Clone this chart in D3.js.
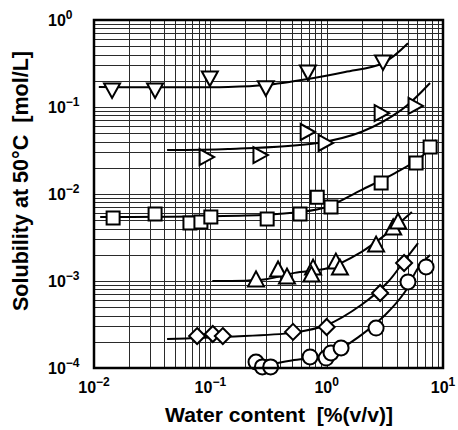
<!DOCTYPE html>
<html>
<head>
<meta charset="utf-8">
<script src="https://cdn.jsdelivr.net/npm/d3@7"></script>
<style>
  body { margin: 0; background: #fff; }
  text { font-family: "Liberation Sans", Arial, sans-serif; font-weight: bold; fill: #000; white-space: pre; }
</style>
</head>
<body>
<div id="container"></div>
<script>
var w = 458;
var h = 430;

// data: [water content %, solubility mol/L]
var downTri = [[0.0143, 0.157], [0.0335, 0.157], [0.099, 0.215], [0.30, 0.166], [0.69, 0.252], [3.05, 0.33]];
var downTriCurve = [[0.011, 0.17], [0.142, 0.17], [0.30, 0.179], [0.69, 0.21], [1.44, 0.252], [3.05, 0.32], [5.0, 0.54]];

var rightTri = [[0.092, 0.0266], [0.267, 0.028], [0.68, 0.0516], [0.97, 0.0386], [2.94, 0.085], [5.75, 0.103]];
var rightTriCurve = [[0.0425, 0.032], [0.142, 0.0329], [0.84, 0.0386], [1.98, 0.0516], [4.36, 0.092], [7.74, 0.189]];

var squares = [[0.0146, 0.0053], [0.0335, 0.00589], [0.0668, 0.00464], [0.083, 0.00477], [0.101, 0.00544],
  [0.308, 0.00516], [0.59, 0.00589], [0.83, 0.0092], [1.09, 0.0071], [2.94, 0.0134], [5.87, 0.0227], [7.75, 0.0347]];
var squareCurve = [[0.0113, 0.00544], [0.28, 0.00575], [0.59, 0.0062], [1.0, 0.0071], [1.98, 0.0111], [3.87, 0.0174], [6.48, 0.0266], [8.7, 0.0418]];

var upTri = [[0.247, 0.00103], [0.382, 0.00134], [0.456, 0.00111], [0.764, 0.00141], [0.74, 0.00117],
  [1.2, 0.00165], [1.3, 0.00141], [2.66, 0.00259], [3.73, 0.00407], [4.11, 0.00477]];
var upTriCurve = [[0.104, 0.001], [0.3, 0.00105], [0.53, 0.00124], [1.03, 0.00141], [1.98, 0.00215], [3.18, 0.00338], [5.4, 0.0062]];

var diamonds = [[0.077, 0.000233], [0.105, 0.000246], [0.128, 0.000233], [0.514, 0.00026], [1.0, 0.000296], [2.88, 0.000728], [4.63, 0.00161]];
var diamondCurve = [[0.0425, 0.000216], [0.142, 0.000229], [0.514, 0.000255], [1.0, 0.000312], [1.98, 0.00053], [3.36, 0.000975], [4.5, 0.00161], [6.1, 0.00273]];

var circles = [[0.247, 0.000117], [0.28, 0.000103], [0.33, 0.000103], [0.72, 0.000134], [0.99, 0.00013],
  [1.09, 0.000149], [1.33, 0.00017], [2.66, 0.000288], [5.0, 0.000975], [7.16, 0.00145]];
var circleCurve = [[0.26, 0.000104], [0.5, 0.000122], [1.03, 0.000141], [1.98, 0.000239], [3.18, 0.000407], [4.7, 0.000748], [6.1, 0.00141], [7.74, 0.00199]];

var xTickExp = [-2, -1, 0, 1];
var yTickExp = [-4, -3, -2, -1, 0];

var svg = d3.select("div#container")
  .append("svg")
  .attr("width", w)
  .attr("height", h);

var x = d3.scaleLog().domain([0.01, 10]).range([94, 443]);
var y = d3.scaleLog().domain([1e-4, 1]).range([368, 20]);

// log grid
var xGrid = [], yGrid = [];
for (var d = -2; d < 1; d++) for (var k = 1; k < 10; k++) xGrid.push(k * Math.pow(10, d));
for (var d = -4; d < 0; d++) for (var k = 1; k < 10; k++) yGrid.push(k * Math.pow(10, d));

svg.append("g")
  .selectAll("line")
  .data(xGrid)
  .enter()
  .append("line")
  .attr("x1", d => Math.round(x(d)) + 0.5).attr("x2", d => Math.round(x(d)) + 0.5)
  .attr("y1", y(1e-4)).attr("y2", y(1))
  .attr("stroke", "#2a2a2a")
  .attr("stroke-width", 1);

svg.append("g")
  .selectAll("line")
  .data(yGrid)
  .enter()
  .append("line")
  .attr("y1", d => Math.round(y(d)) + 0.5).attr("y2", d => Math.round(y(d)) + 0.5)
  .attr("x1", x(0.01)).attr("x2", x(10))
  .attr("stroke", "#2a2a2a")
  .attr("stroke-width", 1);

// fitted curves
var line = d3.line()
  .x(d => x(d[0]))
  .y(d => y(d[1]))
  .curve(d3.curveCatmullRom);

[downTriCurve, rightTriCurve, squareCurve, upTriCurve, diamondCurve, circleCurve].forEach(function(c) {
  svg.append("path")
    .attr("d", line(c))
    .attr("fill", "none")
    .attr("stroke", "#000")
    .attr("stroke-width", 2);
});

// markers
function drawMarks(data, shape) {
  svg.append("g")
    .selectAll("path")
    .data(data)
    .enter()
    .append("path")
    .attr("transform", d => `translate(${x(d[0])},${y(d[1])})`)
    .attr("d", shape)
    .attr("fill", "#fff")
    .attr("stroke", "#000")
    .attr("stroke-width", 2);
}

drawMarks(downTri, "M-8,-6.5L8,-6.5L0,8Z");
drawMarks(rightTri, "M-6.5,-8L8,0L-6.5,8Z");
drawMarks(squares, "M-6.5,-6.5H6.5V6.5H-6.5Z");
drawMarks(upTri, "M-8,6.5L8,6.5L0,-8.5Z");
drawMarks(diamonds, "M0,-8L8,0L0,8L-8,0Z");
drawMarks(circles, d3.symbol().type(d3.symbolCircle).size(Math.PI * 7.5 * 7.5)());

// frame
svg.append("rect")
  .attr("x", x(0.01)).attr("y", y(1))
  .attr("width", x(10) - x(0.01))
  .attr("height", y(1e-4) - y(1))
  .attr("fill", "none")
  .attr("stroke", "#000")
  .attr("stroke-width", 2.5);

// tick labels
var xl = svg.append("g")
  .selectAll("text")
  .data(xTickExp)
  .enter()
  .append("text")
  .attr("x", d => x(Math.pow(10, d)))
  .attr("y", 393)
  .attr("text-anchor", "middle")
  .style("font-size", "16px");
xl.append("tspan").text("10");
xl.append("tspan").attr("dy", -7).style("font-size", "12px")
  .text(d => d < 0 ? "\u2212" + (-d) : d);

var yl = svg.append("g")
  .selectAll("text")
  .data(yTickExp)
  .enter()
  .append("text")
  .attr("x", 48)
  .attr("y", d => y(Math.pow(10, d)) + 6)
  .style("font-size", "16px");
yl.append("tspan").text("10");
yl.append("tspan").attr("dy", -7).style("font-size", "12px")
  .text(d => d < 0 ? "\u2212" + (-d) : d);

// axis titles, sized to span the same length as in the source
function fitTitle(t, target) {
  var len = t.node().getComputedTextLength();
  t.style("font-size", (16 * target / len).toFixed(2) + "px");
}

var yt = svg.append("text")
  .attr("transform", "translate(28,181) rotate(-90)")
  .attr("text-anchor", "middle")
  .style("font-size", "16px")
  .text("Solubility at 50\u00B0C  [mol/L]");
fitTitle(yt, 260);

var xt = svg.append("text")
  .attr("x", 279)
  .attr("y", 422)
  .attr("text-anchor", "middle")
  .style("font-size", "16px")
  .text("Water content  [%(v/v)]");
fitTitle(xt, 228);
</script>
</body>
</html>
